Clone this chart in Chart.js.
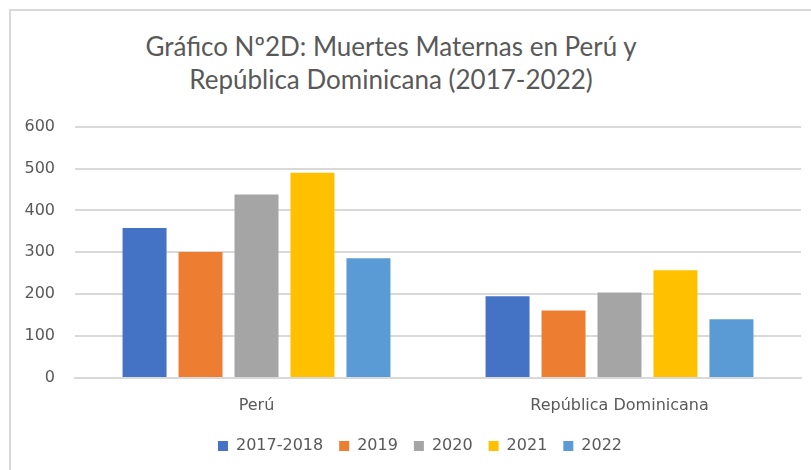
<!DOCTYPE html>
<html>
<head>
<meta charset="utf-8">
<script src="https://cdn.jsdelivr.net/npm/chart.js@4"></script>
<style>
    body { margin: 0; background: #fff; }
    #marco {
        position: absolute; left: 9px; top: 9px; width: 802px; height: 461px;
        border-top: 2px solid #d9d9d9; border-left: 2px solid #d9d9d9;
    }
    #titulo {
        position: absolute; left: 0; top: 19px; width: 760px; text-align: center;
        font-family: Lato, "Open Sans", sans-serif; font-size: 26px; line-height: 33px;
        color: #595959;
    }
    #caja { position: absolute; left: 0; top: 86px; width: 800px; height: 377px; }
</style>
</head>
<body>
<div id="marco">
    <div id="titulo">Gráfico Nº2D: Muertes Maternas en Perú y<br>República Dominicana (2017-2022)</div>
    <div id="caja"><canvas id="myChart"></canvas></div>
</div>
<script>
const paises = ['Perú', 'República Dominicana'];
const periodos = ['2017-2018', '2019', '2020', '2021', '2022'];
const colores = ['#4472c4', '#ed7d31', '#a5a5a5', '#ffc000', '#5b9bd5'];

// muertes maternas por periodo (Perú, Rep. Dominicana)
const muertes2017_2018 = [358, 195];
const muertes2019 = [301, 161];
const muertes2020 = [438, 204];
const muertes2021 = [490, 257];
const muertes2022 = [286, 140];

const valores = [muertes2017_2018, muertes2019, muertes2020, muertes2021, muertes2022];

const ctx = document.getElementById('myChart').getContext('2d');
Chart.defaults.font.family = '"DejaVu Sans", Verdana, sans-serif';
Chart.defaults.color = '#595959';

// corre la leyenda un poco (derecha y arriba) como en el original
const moverLeyenda = {
    id: 'moverLeyenda',
    afterLayout(chart) {
        chart.legend.left += 14;
        chart.legend.right += 14;
        chart.legend.top -= 4;
        chart.legend.bottom -= 4;
    }
};

new Chart(ctx, {
    type: 'bar',
    data: {
        labels: paises,
        datasets: periodos.map((p, i) => ({
            label: p,
            data: valores[i],
            backgroundColor: colores[i],
            borderWidth: 0,
            categoryPercentage: 0.771,
            barPercentage: 0.786
        }))
    },
    options: {
        responsive: true,
        maintainAspectRatio: false,
        animation: false,
        layout: { padding: { left: 0, right: 10, top: 0, bottom: 6 } },
        plugins: {
            legend: {
                position: 'bottom',
                labels: { boxWidth: 10, boxHeight: 10, font: { size: 16 }, padding: 16 }
            },
            title: { display: false },
            tooltip: { enabled: false }
        },
        scales: {
            x: {
                grid: { display: false },
                border: { color: '#d9d9d9', width: 2 },
                ticks: { font: { size: 16, lineHeight: 1.0 }, padding: 12 }
            },
            y: {
                min: 0,
                max: 600,
                ticks: { stepSize: 100, font: { size: 16 }, padding: 20 },
                grid: { color: '#d9d9d9', lineWidth: 2, drawTicks: false },
                border: { display: false },
                afterFit: (escala) => { escala.width = 64; }
            }
        }
    },
    plugins: [moverLeyenda]
});
</script>
</body>
</html>
